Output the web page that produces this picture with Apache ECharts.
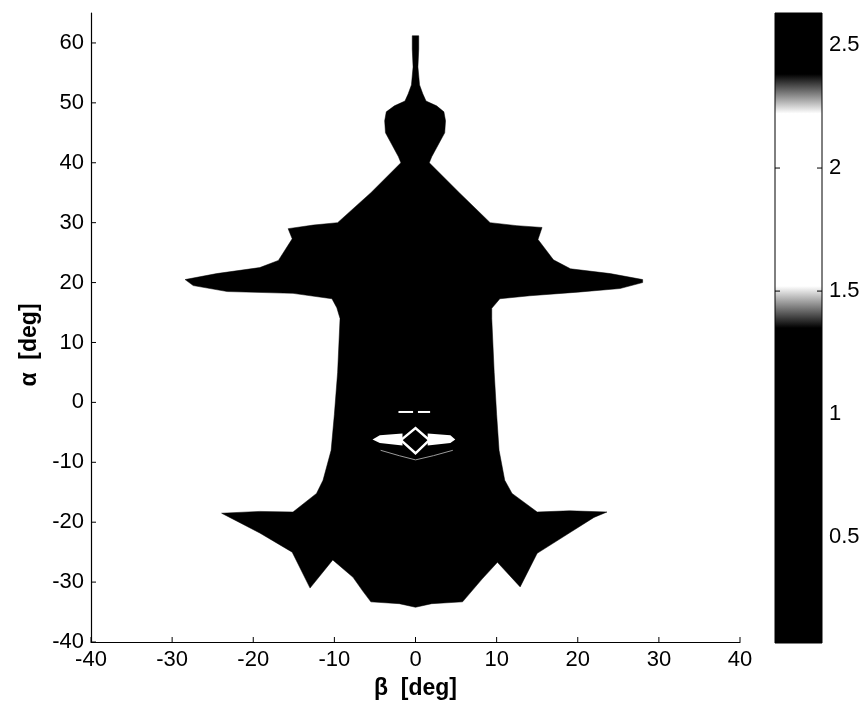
<!DOCTYPE html>
<html>
<head>
<meta charset="utf-8">
<script src="https://cdn.jsdelivr.net/npm/echarts@6/dist/echarts.min.js"></script>
<style>
  html, body { margin: 0; padding: 0; background: #ffffff; }
  #chart { width: 868px; height: 712px; }
</style>
</head>
<body>
<div id="chart"></div>
<script>
// Axis ticks
const betaTicks = [-40, -30, -20, -10, 0, 10, 20, 30, 40];
const alphaTicks = [-40, -30, -20, -10, 0, 10, 20, 30, 40, 50, 60];
const colorbarTicks = [0.5, 1, 1.5, 2, 2.5];
const betaRange = [-40, 40];
const alphaRange = [-40, 65];
const colorRange = [0.07, 2.63];

// Grey colormap: level -> shade
const cmapLevels = [0.07, 1.35, 1.52, 2.22, 2.38, 2.63];
const cmapShades = ['#000000', '#000000', '#ffffff', '#ffffff', '#000000', '#000000'];

// Boundary of the filled region: right half, top to bottom (β, α in deg)
const rightEdgeBeta  = [0.4, 0.4, 0.3, 0.5, 0.9, 1.3, 2.6, 3.5, 3.7, 3.6, 3.0, 2.0, 1.7, 5.4, 9.2, 12.5, 15.6, 15.1, 17.0, 19.1, 24.0, 28.0, 28.0, 25.2, 20.0, 14.1, 10.4, 9.4, 9.4, 9.7, 10.0, 10.3, 11.0, 11.9, 15.0, 19.0, 23.6, 22.0, 19.2, 15.0, 12.9, 10.1, 8.2, 5.8, 2.0, 0.0];
const rightEdgeAlpha = [61.2, 59.0, 56.0, 53.0, 51.5, 50.3, 49.5, 48.5, 47.0, 45.0, 43.5, 41.0, 40.0, 35.0, 30.0, 29.5, 29.2, 27.2, 23.8, 22.3, 21.5, 20.5, 20.0, 19.0, 18.4, 17.8, 17.3, 15.7, 14.0, 5.0, -2.0, -8.0, -13.0, -15.2, -18.3, -18.1, -18.3, -19.2, -21.6, -25.2, -30.8, -26.7, -29.5, -33.3, -33.6, -34.2];
// Left half, bottom to top
const leftEdgeBeta  = [-2.0, -5.5, -6.5, -7.7, -10.2, -13.0, -15.2, -19.2, -23.9, -19.2, -15.1, -12.2, -11.4, -10.4, -10.0, -9.6, -9.3, -9.7, -10.3, -15.1, -23.2, -27.4, -28.4, -24.5, -19.2, -16.9, -15.2, -15.7, -12.6, -9.6, -5.5, -1.8, -2.1, -3.1, -3.7, -3.8, -3.6, -2.6, -1.3, -0.9, -0.5, -0.3, -0.4, -0.4];
const leftEdgeAlpha = [-33.6, -33.3, -31.5, -29.2, -26.3, -31.0, -25.0, -21.8, -18.5, -18.2, -18.3, -15.2, -13.0, -8.0, -2.0, 5.0, 14.0, 15.8, 17.3, 18.2, 18.5, 19.5, 20.5, 21.5, 22.5, 23.7, 27.3, 29.0, 29.6, 30.0, 35.0, 40.0, 41.0, 43.5, 45.0, 47.0, 48.5, 49.5, 50.3, 51.5, 53.0, 56.0, 59.0, 61.2];

// Inner contour lines near the centre
const diamondBeta  = [-1.8, 0.0, 1.7, 0.0];
const diamondAlpha = [-6.3, -4.3, -6.3, -8.5];
const rightTabBeta  = [1.5, 4.3, 4.9, 4.3, 1.5];
const rightTabAlpha = [-5.2, -5.5, -6.2, -6.8, -7.2];
const leftTabBeta  = [-1.6, -4.4, -5.3, -4.4, -1.6];
const leftTabAlpha = [-5.2, -5.5, -6.2, -6.8, -7.2];
const dashBeta  = [[-2.1, -0.3], [0.3, 1.8]];
const dashAlpha = [[-1.6, -1.6], [-1.6, -1.6]];
const arcBeta  = [-4.3, -2.0, 0.0, 2.2, 4.6];
const arcAlpha = [-8.0, -8.9, -9.6, -8.9, -8.0];

const FONT = 'Liberation Sans, Arial, sans-serif';
const TICK_LEN = 5;

function pts(api, bs, as) {
  return bs.map((b, i) => api.coord([b, as[i]]));
}

function tickLine(x1, y1, x2, y2) {
  return { type: 'line', shape: { x1: x1, y1: y1, x2: x2, y2: y2 }, style: { stroke: '#000', lineWidth: 1 } };
}

function renderRegion(params, api) {
  const outline = pts(api, rightEdgeBeta.concat(leftEdgeBeta), rightEdgeAlpha.concat(leftEdgeAlpha));
  const children = [
    { type: 'polygon', shape: { points: outline }, style: { fill: '#000', stroke: '#000', lineWidth: 0.5 } },
    { type: 'polygon', shape: { points: pts(api, rightTabBeta, rightTabAlpha) }, style: { fill: '#fff' } },
    { type: 'polygon', shape: { points: pts(api, leftTabBeta, leftTabAlpha) }, style: { fill: '#fff' } },
    { type: 'polygon', shape: { points: pts(api, diamondBeta, diamondAlpha) }, style: { fill: 'none', stroke: '#fff', lineWidth: 2.5 } },
    { type: 'polyline', shape: { points: pts(api, arcBeta, arcAlpha) }, style: { fill: 'none', stroke: '#9a9a9a', lineWidth: 1 } }
  ];
  dashBeta.forEach((bs, k) => {
    children.push({ type: 'polyline', shape: { points: pts(api, bs, dashAlpha[k]) }, style: { fill: 'none', stroke: '#fff', lineWidth: 2 } });
  });
  // inward tick marks on the bottom and left axes
  betaTicks.forEach(b => {
    const p = api.coord([b, alphaRange[0]]);
    children.push(tickLine(p[0], p[1], p[0], p[1] - TICK_LEN));
  });
  alphaTicks.forEach(a => {
    const p = api.coord([betaRange[0], a]);
    children.push(tickLine(p[0], p[1], p[0] + TICK_LEN, p[1]));
  });
  return { type: 'group', children: children };
}

// Colour bar: gradient strip with a frame and inward ticks on both edges
function renderColorbar(params, api) {
  const p0 = api.coord([0, colorRange[1]]);
  const p1 = api.coord([1, colorRange[0]]);
  const span = colorRange[1] - colorRange[0];
  const stops = cmapLevels.map((lv, i) => ({ offset: (colorRange[1] - lv) / span, color: cmapShades[i] })).reverse();
  const children = [{
    type: 'rect',
    shape: { x: p0[0], y: p0[1], width: p1[0] - p0[0], height: p1[1] - p0[1] },
    style: { fill: new echarts.graphic.LinearGradient(0, 0, 0, 1, stops), stroke: '#000', lineWidth: 1 }
  }];
  colorbarTicks.forEach(v => {
    const l = api.coord([0, v]);
    const r = api.coord([1, v]);
    children.push(tickLine(l[0], l[1], l[0] + TICK_LEN, l[1]));
    children.push(tickLine(r[0] - TICK_LEN, r[1], r[0], r[1]));
  });
  return { type: 'group', children: children };
}

const chart = echarts.init(document.getElementById('chart'), null, { renderer: 'canvas' });

const labelStyle = { color: '#000', fontFamily: FONT, fontSize: 22 };

chart.setOption({
  animation: false,
  backgroundColor: '#fff',
  grid: [
    { left: 91, right: 128, top: 13, bottom: 70 },
    { left: 775, width: 47, top: 13, bottom: 69 }
  ],
  xAxis: [
    {
      type: 'value', gridIndex: 0, min: betaRange[0], max: betaRange[1],
      name: 'β  [deg]', nameLocation: 'middle', nameGap: 35,
      nameTextStyle: { color: '#000', fontFamily: FONT, fontSize: 23, fontWeight: 'bold' },
      axisLine: { show: true, onZero: false, lineStyle: { color: '#000', width: 1.2 } },
      axisTick: { show: false },
      axisLabel: Object.assign({ customValues: betaTicks, margin: 7 }, labelStyle),
      splitLine: { show: false }
    },
    { type: 'value', gridIndex: 1, min: 0, max: 1, show: false }
  ],
  yAxis: [
    {
      type: 'value', gridIndex: 0, min: alphaRange[0], max: alphaRange[1],
      axisLine: { show: true, onZero: false, lineStyle: { color: '#000', width: 1.2 } },
      axisTick: { show: false },
      axisLabel: Object.assign({ customValues: alphaTicks, margin: 7 }, labelStyle),
      splitLine: { show: false }
    },
    {
      type: 'value', gridIndex: 1, position: 'right', min: colorRange[0], max: colorRange[1],
      axisLine: { show: false },
      axisTick: { show: false },
      axisLabel: Object.assign({ customValues: colorbarTicks, margin: 7 }, labelStyle),
      splitLine: { show: false }
    }
  ],
  graphic: [
    {
      type: 'text', x: 30, y: 345, rotation: Math.PI / 2,
      style: { text: 'α  [deg]', fill: '#000', font: 'bold 23px ' + FONT, textAlign: 'center', textVerticalAlign: 'middle' }
    }
  ],
  series: [
    { type: 'custom', xAxisIndex: 0, yAxisIndex: 0, renderItem: renderRegion, data: [[0, 0]], silent: true, clip: false },
    { type: 'custom', xAxisIndex: 1, yAxisIndex: 1, renderItem: renderColorbar, data: [[0, colorRange[0]]], silent: true }
  ]
});
</script>
</body>
</html>
